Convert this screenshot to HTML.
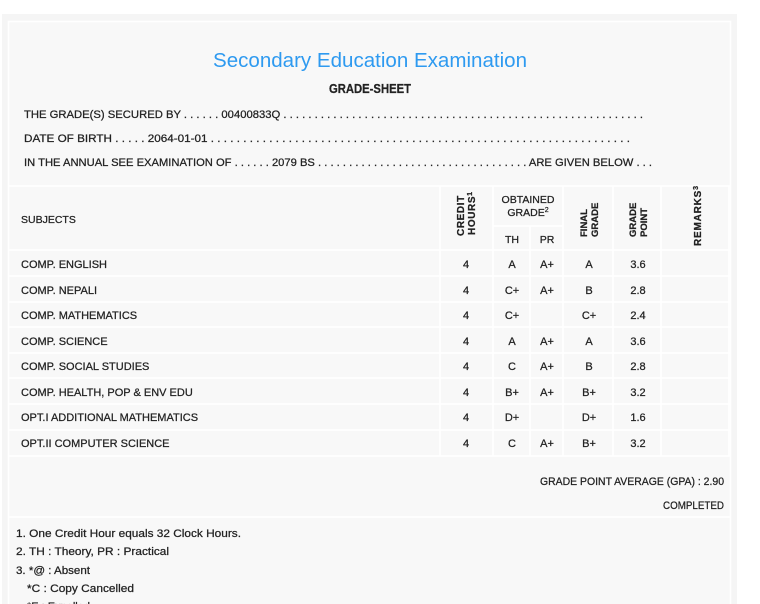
<!DOCTYPE html>
<html><head><meta charset="utf-8"><style>
html,body{margin:0;padding:0;background:#fff;width:760px;height:604px;overflow:hidden}
svg{display:block}
text{font-family:"Liberation Sans",sans-serif;fill:#222;font-size:11px;stroke:#222;stroke-width:0.25}
.b{font-weight:bold}
.c{text-anchor:middle}
.r{text-anchor:end}
</style></head><body>
<svg width="760" height="604" viewBox="0 0 760 604">
<rect x="2" y="14" width="735" height="600" fill="#f5f5f5"/>
<rect x="8.5" y="21.5" width="722" height="600" fill="#f8f8f8" stroke="#fff" stroke-width="1.5"/>
<text x="370" y="67" class="c" style="font-size:20px;fill:#2e9af0;stroke:none" textLength="314" lengthAdjust="spacingAndGlyphs">Secondary Education Examination</text>
<text x="370" y="93" class="c b" style="font-size:12.5px" textLength="82" lengthAdjust="spacingAndGlyphs">GRADE-SHEET</text>
<text x="24" y="118" textLength="619" lengthAdjust="spacingAndGlyphs">THE GRADE(S) SECURED BY . . . . . . 00400833Q . . . . . . . . . . . . . . . . . . . . . . . . . . . . . . . . . . . . . . . . . . . . . . . . . . . . . . . . . .</text>
<text x="24" y="142" textLength="606" lengthAdjust="spacingAndGlyphs">DATE OF BIRTH . . . . . 2064-01-01 . . . . . . . . . . . . . . . . . . . . . . . . . . . . . . . . . . . . . . . . . . . . . . . . . . . . . . . . . . . . . . . . .</text>
<text x="24" y="166" textLength="628" lengthAdjust="spacingAndGlyphs">IN THE ANNUAL SEE EXAMINATION OF . . . . . . 2079 BS . . . . . . . . . . . . . . . . . . . . . . . . . . . . . . . . . . ARE GIVEN BELOW . . .</text>
<g stroke="#fff" stroke-width="1.5">
<line x1="8" y1="186" x2="731" y2="186"/>
<line x1="493" y1="226" x2="563" y2="226"/>
<line x1="8" y1="250" x2="731" y2="250"/>
<line x1="8" y1="276" x2="731" y2="276"/>
<line x1="8" y1="302" x2="731" y2="302"/>
<line x1="8" y1="327" x2="731" y2="327"/>
<line x1="8" y1="353" x2="731" y2="353"/>
<line x1="8" y1="378" x2="731" y2="378"/>
<line x1="8" y1="404" x2="731" y2="404"/>
<line x1="8" y1="430" x2="731" y2="430"/>
<line x1="8" y1="456" x2="731" y2="456"/>
<line x1="8" y1="517" x2="731" y2="517"/>
<line x1="440" y1="186" x2="440" y2="456"/>
<line x1="493" y1="186" x2="493" y2="456"/>
<line x1="530" y1="226" x2="530" y2="456"/>
<line x1="563" y1="186" x2="563" y2="456"/>
<line x1="613" y1="186" x2="613" y2="456"/>
<line x1="661" y1="186" x2="661" y2="456"/>
<line x1="729" y1="186" x2="729" y2="456"/>
</g>
<text x="21" y="223" style="font-size:10.5px">SUBJECTS</text>
<text x="528" y="203" class="c" style="font-size:10.5px">OBTAINED</text>
<text x="528" y="216" class="c" style="font-size:10.5px">GRADE<tspan dy="-4" style="font-size:7px">2</tspan></text>
<text x="512" y="243" class="c" style="font-size:10.5px">TH</text>
<text x="547" y="243" class="c" style="font-size:10.5px">PR</text>
<text transform="translate(464,236) rotate(-90)" class="b" style="font-size:10px" letter-spacing="0.6">CREDIT</text>
<text transform="translate(475,235) rotate(-90)" class="b" style="font-size:10px" letter-spacing="0.6">HOURS<tspan dy="-3" style="font-size:7px">1</tspan></text>
<text transform="translate(587,237) rotate(-90)" class="b" style="font-size:9.5px">FINAL</text>
<text transform="translate(598,237) rotate(-90)" class="b" style="font-size:9.5px">GRADE</text>
<text transform="translate(636,237) rotate(-90)" class="b" style="font-size:9.5px">GRADE</text>
<text transform="translate(647,237) rotate(-90)" class="b" style="font-size:9.5px">POINT</text>
<text transform="translate(701,246) rotate(-90)" class="b" style="font-size:10px" letter-spacing="0.8">REMARKS<tspan dy="-3" style="font-size:7px">3</tspan></text>
<g style="font-size:10.5px">
<text x="21" y="268">COMP. ENGLISH</text><text x="466" y="268" class="c">4</text><text x="512" y="268" class="c">A</text><text x="547" y="268" class="c">A+</text><text x="589" y="268" class="c">A</text><text x="638" y="268" class="c">3.6</text>
<text x="21" y="294">COMP. NEPALI</text><text x="466" y="294" class="c">4</text><text x="512" y="294" class="c">C+</text><text x="547" y="294" class="c">A+</text><text x="589" y="294" class="c">B</text><text x="638" y="294" class="c">2.8</text>
<text x="21" y="319">COMP. MATHEMATICS</text><text x="466" y="319" class="c">4</text><text x="512" y="319" class="c">C+</text><text x="589" y="319" class="c">C+</text><text x="638" y="319" class="c">2.4</text>
<text x="21" y="345">COMP. SCIENCE</text><text x="466" y="345" class="c">4</text><text x="512" y="345" class="c">A</text><text x="547" y="345" class="c">A+</text><text x="589" y="345" class="c">A</text><text x="638" y="345" class="c">3.6</text>
<text x="21" y="370">COMP. SOCIAL STUDIES</text><text x="466" y="370" class="c">4</text><text x="512" y="370" class="c">C</text><text x="547" y="370" class="c">A+</text><text x="589" y="370" class="c">B</text><text x="638" y="370" class="c">2.8</text>
<text x="21" y="396">COMP. HEALTH, POP &amp; ENV EDU</text><text x="466" y="396" class="c">4</text><text x="512" y="396" class="c">B+</text><text x="547" y="396" class="c">A+</text><text x="589" y="396" class="c">B+</text><text x="638" y="396" class="c">3.2</text>
<text x="21" y="421">OPT.I ADDITIONAL MATHEMATICS</text><text x="466" y="421" class="c">4</text><text x="512" y="421" class="c">D+</text><text x="589" y="421" class="c">D+</text><text x="638" y="421" class="c">1.6</text>
<text x="21" y="447">OPT.II COMPUTER SCIENCE</text><text x="466" y="447" class="c">4</text><text x="512" y="447" class="c">C</text><text x="547" y="447" class="c">A+</text><text x="589" y="447" class="c">B+</text><text x="638" y="447" class="c">3.2</text>
<text x="724" y="485" class="r" textLength="184" lengthAdjust="spacingAndGlyphs">GRADE POINT AVERAGE (GPA) : 2.90</text>
<text x="724" y="509" class="r" textLength="61" lengthAdjust="spacingAndGlyphs">COMPLETED</text>
</g>
<g style="font-size:11px">
<text x="16" y="537" textLength="225" lengthAdjust="spacingAndGlyphs">1. One Credit Hour equals 32 Clock Hours.</text>
<text x="16" y="555" textLength="153" lengthAdjust="spacingAndGlyphs">2. TH : Theory, PR : Practical</text>
<text x="16" y="574" textLength="74" lengthAdjust="spacingAndGlyphs">3. *@ : Absent</text>
<text x="27" y="592" textLength="107" lengthAdjust="spacingAndGlyphs">*C : Copy Cancelled</text>
<text x="27" y="610">*E : Expelled</text>
</g>
</svg>
</body></html>
